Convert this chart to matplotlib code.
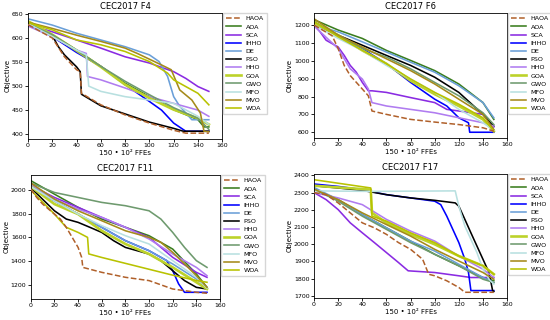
import matplotlib.pyplot as plt

algos = ['HAOA', 'AOA', 'SCA', 'IHHO', 'DE', 'PSO', 'HHO', 'GOA', 'GWO', 'MFO', 'MVO', 'WOA']
colors = ['#b0602a', '#3a7d1e', '#8a2be2', '#0000ff', '#6a9fd8', '#000000',
          '#b07cf0', '#bcd22a', '#6e9a6e', '#b8e0e0', '#a58a1a', '#b8c200']
titles = ['CEC2017 F4', 'CEC2017 F6', 'CEC2017 F11', 'CEC2017 F17']

# convergence curves as (FFEs, objective) breakpoints
f4 = {
    'HAOA': ([0, 20, 30, 40, 43, 44, 60, 80, 100, 120, 130, 149],
             [628, 600, 561, 534, 530, 485, 461, 440, 423, 408, 402, 402]),
    'AOA': ([0, 20, 40, 60, 80, 100, 120, 140, 145, 149],
            [635, 606, 575, 541, 506, 478, 451, 430, 415, 415]),
    'SCA': ([0, 20, 40, 60, 80, 100, 120, 130, 140, 149],
            [628, 613, 596, 579, 561, 548, 530, 516, 499, 489]),
    'IHHO': ([0, 20, 40, 60, 80, 100, 110, 120, 130, 149],
             [628, 603, 570, 541, 503, 468, 450, 423, 406, 406]),
    'DE': ([0, 20, 40, 60, 80, 100, 108, 115, 120, 125, 130, 135, 149],
           [640, 627, 610, 596, 582, 565, 551, 520, 478, 458, 444, 430, 430]),
    'PSO': ([0, 20, 25, 30, 40, 43, 44, 60, 80, 100, 120, 128, 149],
            [630, 605, 582, 565, 540, 530, 483, 459, 442, 425, 412, 406, 406]),
    'HHO': ([0, 20, 40, 48, 49, 60, 80, 100, 120, 140, 149],
            [625, 603, 575, 568, 520, 513, 496, 478, 464, 450, 437]),
    'GOA': ([0, 20, 40, 60, 80, 100, 120, 140, 149],
            [635, 607, 574, 540, 503, 475, 451, 433, 420]),
    'GWO': ([0, 20, 40, 60, 80, 100, 120, 140, 149],
            [630, 607, 575, 541, 510, 482, 455, 433, 410]),
    'MFO': ([0, 20, 40, 48, 50, 60, 80, 100, 120, 140, 149],
            [630, 603, 575, 565, 500, 489, 478, 471, 464, 437, 420]),
    'MVO': ([0, 20, 40, 60, 80, 90, 110, 118, 125, 135, 142, 145, 149],
            [633, 620, 606, 593, 579, 568, 544, 534, 492, 471, 444, 406, 405]),
    'WOA': ([0, 20, 40, 60, 80, 100, 115, 120, 140, 149],
            [632, 617, 596, 586, 572, 551, 527, 513, 485, 461]),
}

f6 = {
    'HAOA': ([0, 15, 20, 25, 30, 40, 45, 48, 60, 80, 100, 120, 140, 149],
             [1200, 1140, 1068, 974, 917, 842, 804, 719, 700, 672, 657, 643, 625, 606]),
    'AOA': ([0, 20, 40, 60, 80, 100, 120, 140, 149],
            [1230, 1172, 1125, 1058, 1002, 945, 870, 766, 672]),
    'SCA': ([0, 5, 10, 20, 25, 30, 35, 40, 45, 48, 60, 80, 100, 110, 120, 140, 149],
            [1200, 1162, 1115, 1077, 1030, 974, 936, 879, 832, 832, 823, 794, 766, 728, 719, 700, 630]),
    'IHHO': ([0, 20, 40, 60, 80, 100, 110, 120, 128, 129, 149],
             [1210, 1143, 1068, 983, 879, 785, 747, 681, 653, 600, 600]),
    'DE': ([0, 20, 40, 60, 80, 100, 120, 140, 149],
           [1200, 1162, 1106, 1049, 992, 936, 860, 766, 681]),
    'PSO': ([0, 20, 40, 60, 80, 100, 120, 140, 149],
            [1205, 1143, 1087, 1030, 974, 908, 823, 700, 634]),
    'HHO': ([0, 20, 30, 40, 45, 48, 60, 80, 100, 120, 140, 149],
            [1195, 1068, 955, 898, 842, 766, 747, 728, 709, 681, 653, 634]),
    'GOA': ([0, 20, 40, 60, 80, 100, 120, 140, 149],
            [1210, 1143, 1058, 983, 889, 813, 747, 672, 606]),
    'GWO': ([0, 20, 40, 60, 80, 100, 120, 140, 149],
            [1220, 1143, 1068, 1021, 955, 879, 804, 709, 643]),
    'MFO': ([0, 20, 40, 60, 80, 100, 120, 140, 149],
            [1200, 1125, 1058, 974, 898, 823, 728, 653, 610]),
    'MVO': ([0, 20, 40, 60, 80, 100, 120, 140, 149],
            [1235, 1143, 1077, 1011, 945, 870, 785, 700, 615]),
    'WOA': ([0, 20, 40, 60, 80, 100, 120, 140, 149],
            [1220, 1134, 1058, 983, 898, 823, 757, 681, 605]),
}

f11 = {
    'HAOA': ([0, 5, 10, 20, 25, 30, 35, 40, 43, 44, 60, 80, 100, 120, 140, 149],
             [2010, 1938, 1882, 1797, 1755, 1685, 1600, 1515, 1431, 1346, 1304, 1262, 1234, 1163, 1135, 1127]),
    'AOA': ([0, 20, 40, 60, 80, 100, 120, 140, 149],
            [2080, 1966, 1854, 1755, 1685, 1614, 1501, 1290, 1177]),
    'SCA': ([0, 20, 40, 60, 80, 100, 120, 140, 149],
            [2040, 1938, 1854, 1769, 1685, 1600, 1431, 1304, 1262]),
    'IHHO': ([0, 20, 40, 60, 80, 100, 115, 120, 125, 130, 149],
             [2020, 1910, 1797, 1685, 1572, 1487, 1403, 1318, 1206, 1135, 1135]),
    'DE': ([0, 20, 40, 60, 80, 100, 120, 140, 149],
           [2040, 1910, 1797, 1685, 1572, 1487, 1375, 1248, 1177]),
    'PSO': ([0, 20, 30, 40, 50, 60, 70, 80, 90, 100, 110, 120, 130, 140, 149],
            [2020, 1825, 1755, 1727, 1685, 1642, 1572, 1515, 1487, 1459, 1403, 1318, 1234, 1177, 1163]),
    'HHO': ([0, 20, 40, 60, 80, 100, 120, 140, 149],
            [2050, 1924, 1839, 1769, 1685, 1586, 1459, 1346, 1276]),
    'GOA': ([0, 20, 40, 60, 80, 100, 120, 140, 149],
            [2030, 1882, 1797, 1656, 1544, 1459, 1346, 1220, 1163]),
    'GWO': ([0, 20, 40, 60, 80, 100, 110, 120, 130, 140, 149],
            [2060, 1980, 1938, 1896, 1868, 1825, 1755, 1642, 1515, 1403, 1346]),
    'MFO': ([0, 20, 40, 60, 80, 100, 120, 140, 149],
            [2030, 1910, 1797, 1699, 1614, 1544, 1403, 1262, 1170]),
    'MVO': ([0, 20, 40, 60, 80, 100, 110, 120, 130, 140, 149],
            [2060, 1924, 1825, 1741, 1656, 1600, 1558, 1473, 1375, 1276, 1177]),
    'WOA': ([0, 20, 30, 40, 48, 49, 60, 80, 100, 120, 140, 149],
            [2000, 1797, 1685, 1642, 1600, 1460, 1430, 1380, 1330, 1280, 1235, 1220]),
}

f17 = {
    'HAOA': ([0, 10, 20, 30, 40, 50, 60, 70, 80, 90, 95, 100, 110, 120, 125, 149],
             [2300, 2288, 2240, 2182, 2124, 2095, 2057, 2009, 1970, 1912, 1825, 1816, 1787, 1748, 1720, 1720]),
    'AOA': ([0, 20, 40, 60, 80, 100, 120, 140, 149],
            [2320, 2259, 2172, 2095, 2018, 1941, 1874, 1806, 1787]),
    'SCA': ([0, 10, 20, 30, 40, 50, 60, 70, 78, 100, 120, 130, 149],
            [2300, 2259, 2201, 2124, 2066, 2009, 1951, 1893, 1845, 1835, 1816, 1806, 1806]),
    'IHHO': ([0, 20, 40, 60, 80, 100, 105, 110, 115, 120, 125, 128, 130, 149],
             [2350, 2336, 2317, 2288, 2269, 2250, 2230, 2163, 2086, 2009, 1912, 1835, 1730, 1730]),
    'DE': ([0, 20, 40, 60, 80, 100, 120, 140, 149],
           [2330, 2259, 2172, 2095, 2018, 1960, 1883, 1806, 1777]),
    'PSO': ([0, 20, 40, 60, 80, 100, 117, 120, 125, 130, 135, 140, 145, 148, 149],
            [2340, 2327, 2313, 2288, 2269, 2255, 2240, 2221, 2144, 2066, 1989, 1912, 1835, 1730, 1725]),
    'HHO': ([0, 20, 40, 60, 80, 100, 120, 140, 149],
            [2300, 2269, 2230, 2144, 2076, 2018, 1931, 1854, 1806]),
    'GOA': ([0, 47, 48, 60, 80, 100, 120, 140, 149],
            [2340, 2317, 2182, 2124, 2057, 1999, 1931, 1874, 1825]),
    'GWO': ([0, 20, 40, 60, 80, 100, 120, 140, 149],
            [2320, 2250, 2163, 2086, 2009, 1941, 1874, 1796, 1777]),
    'MFO': ([0, 47, 117, 120, 125, 130, 135, 140, 145, 149],
            [2310, 2307, 2310, 2221, 2105, 2028, 1951, 1854, 1796, 1768]),
    'MVO': ([0, 20, 40, 60, 80, 100, 120, 140, 149],
            [2320, 2259, 2182, 2114, 2047, 1970, 1902, 1835, 1796]),
    'WOA': ([0, 47, 48, 60, 80, 100, 120, 140, 149],
            [2375, 2327, 2163, 2134, 2066, 2009, 1931, 1874, 1825]),
}

panels = [f4, f6, f11, f17]
# axes rectangles [left, bottom, width, height]
rects = [[0.051, 0.566, 0.353, 0.393],
         [0.571, 0.569, 0.351, 0.390],
         [0.056, 0.066, 0.344, 0.387],
         [0.571, 0.069, 0.351, 0.387]]

fig = plt.figure(figsize=(5.5, 3.2), dpi=100)

for data, title, rect in zip(panels, titles, rects):
    ax = fig.add_axes(rect)
    for name, c in zip(algos, colors):
        x, y = data[name]
        if name == 'HAOA':
            ax.plot(x, y, color=c, lw=1.1, ls='--', label=name, zorder=5)
        elif name == 'GOA':
            ax.plot(x, y, color=c, lw=1.9, label=name)
        else:
            ax.plot(x, y, color=c, lw=1.15, label=name)
    ax.set_xlim(0, 160)
    ax.set_xticks(range(0, 161, 20))
    ax.set_title(title, fontsize=6, pad=3)
    ax.set_xlabel('150 • 10² FFEs', fontsize=5, labelpad=1)
    ax.set_ylabel('Objective', fontsize=5, labelpad=1)
    ax.tick_params(labelsize=4.5, length=2, pad=1.2, width=0.6)
    for s in ax.spines.values():
        s.set_linewidth(0.6)
    ax.legend(loc='upper left', bbox_to_anchor=(1.005, 1.0), fontsize=4.6,
              handlelength=2.4, labelspacing=0.42, borderpad=0.45,
              handletextpad=0.7, borderaxespad=0, frameon=True, fancybox=False)

fig.savefig('out.png', dpi=100)
